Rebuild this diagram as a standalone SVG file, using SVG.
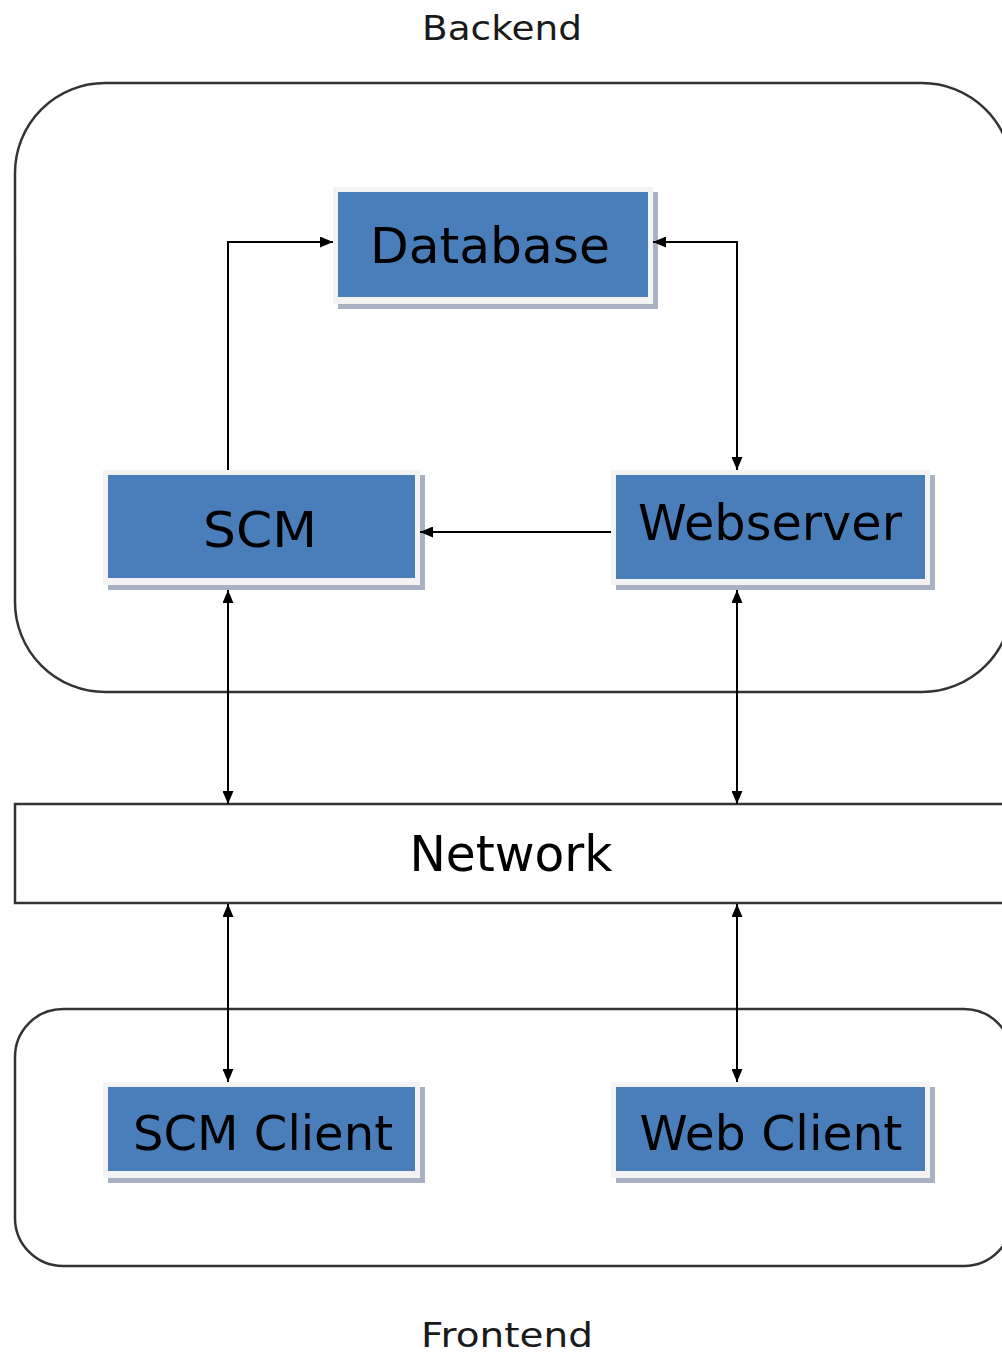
<svg xmlns="http://www.w3.org/2000/svg" width="1002" height="1355" viewBox="0 0 1002 1355">
<style>
.lbl{font-family:"DejaVu Sans","Liberation Sans",sans-serif;fill:#000;text-anchor:middle}
.title{font-size:33px;fill:#1a1a1a}
.big{font-size:50px}
.bnd{fill:none;stroke:#333;stroke-width:2.5}
.sh{fill:#a9b2c2}
.bd{fill:#f3f3f3}
.bl{fill:#4a7ebb}
.cn{fill:none;stroke:#000;stroke-width:2}
</style>
<defs>
<marker id="ah" viewBox="0 0 13 11" refX="13" refY="5.5" markerWidth="13" markerHeight="11" markerUnits="userSpaceOnUse" orient="auto-start-reverse">
<path d="M0,0 L13,5.5 L0,11 z" fill="#000"/>
</marker>
</defs>
<rect width="1002" height="1355" fill="#fff"/>
<g id="backend">
<rect class="bnd" x="15" y="83" width="997" height="609" rx="90" ry="90"/>
<text class="lbl title" x="502" y="40" textLength="160" lengthAdjust="spacingAndGlyphs">Backend</text>
</g>
<g id="frontend">
<rect class="bnd" x="15" y="1009" width="997" height="257" rx="48" ry="48"/>
<text class="lbl title" x="507" y="1347" textLength="172" lengthAdjust="spacingAndGlyphs">Frontend</text>
</g>
<g id="network">
<rect x="15" y="804" width="1000" height="99" fill="#fff" stroke="#333" stroke-width="2.5"/>
<text class="lbl big" x="511" y="871" textLength="203" lengthAdjust="spacingAndGlyphs">Network</text>
</g>
<g id="database">
<rect class="sh" x="338" y="192" width="320" height="117"/>
<rect class="bd" x="333" y="187" width="320" height="117"/>
<rect class="bl" x="338" y="192" width="310" height="105"/>
<text class="lbl big" x="490" y="263" textLength="240" lengthAdjust="spacingAndGlyphs">Database</text>
</g>
<g id="scm">
<rect class="sh" x="108" y="475" width="317" height="115"/>
<rect class="bd" x="103" y="470" width="317" height="115"/>
<rect class="bl" x="108" y="475" width="307" height="103"/>
<text class="lbl big" x="260" y="547" textLength="114" lengthAdjust="spacingAndGlyphs">SCM</text>
</g>
<g id="webserver">
<rect class="sh" x="616" y="475" width="319" height="115"/>
<rect class="bd" x="611" y="470" width="319" height="115"/>
<rect class="bl" x="616" y="475" width="309" height="104"/>
<text class="lbl big" x="770" y="540" textLength="264" lengthAdjust="spacingAndGlyphs">Webserver</text>
</g>
<g id="scmclient">
<rect class="sh" x="108" y="1087" width="317" height="96"/>
<rect class="bd" x="103" y="1082" width="317" height="96"/>
<rect class="bl" x="108" y="1087" width="307" height="84"/>
<text class="lbl" style="font-size:48px" x="263" y="1150" textLength="260" lengthAdjust="spacingAndGlyphs">SCM Client</text>
</g>
<g id="webclient">
<rect class="sh" x="616" y="1087" width="319" height="96"/>
<rect class="bd" x="611" y="1082" width="319" height="96"/>
<rect class="bl" x="616" y="1087" width="309" height="84"/>
<text class="lbl" style="font-size:48px" x="771" y="1150" textLength="263" lengthAdjust="spacingAndGlyphs">Web Client</text>
</g>
<g id="connectors">
<path class="cn" d="M228,470 L228,242 L333,242" marker-end="url(#ah)"/>
<path class="cn" d="M653,242 L737,242 L737,470" marker-start="url(#ah)" marker-end="url(#ah)"/>
<path class="cn" d="M611,532 L420,532" marker-end="url(#ah)"/>
<path class="cn" d="M228,590 L228,804" marker-start="url(#ah)" marker-end="url(#ah)"/>
<path class="cn" d="M737,590 L737,804" marker-start="url(#ah)" marker-end="url(#ah)"/>
<path class="cn" d="M228,904 L228,1082" marker-start="url(#ah)" marker-end="url(#ah)"/>
<path class="cn" d="M737,904 L737,1082" marker-start="url(#ah)" marker-end="url(#ah)"/>
</g>
</svg>
